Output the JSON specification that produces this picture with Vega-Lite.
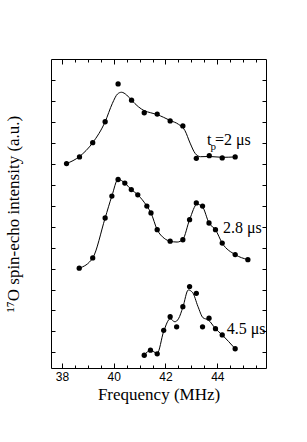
{
  "$schema": "https://vega.github.io/schema/vega-lite/v6.json",
  "width": 215,
  "height": 309,
  "autosize": {"type": "none"},
  "padding": {"left": 51, "top": 59, "right": 41, "bottom": 74},
  "background": "white",
  "config": {
    "view": {"stroke": "black", "strokeWidth": 1},
    "axis": {"domain": false, "grid": false, "tickColor": "black", "tickWidth": 1, "labelColor": "black", "titleColor": "black", "labelFont": "Liberation Sans", "labelFontSize": 12, "titleFont": "Liberation Serif", "titleFontSize": 17, "titleFontWeight": "normal"}
  },
  "datasets": {
    "points": [
      {"s": "2", "f": 38.18, "v": 9.02}, {"s": "2", "f": 38.68, "v": 9.34}, {"s": "2", "f": 39.19, "v": 10.02}, {"s": "2", "f": 39.67, "v": 11.02},
      {"s": "2", "f": 40.17, "v": 12.83}, {"s": "2", "f": 40.69, "v": 12.05}, {"s": "2", "f": 41.18, "v": 11.45}, {"s": "2", "f": 41.68, "v": 11.39},
      {"s": "2", "f": 42.18, "v": 11.06}, {"s": "2", "f": 42.67, "v": 10.82}, {"s": "2", "f": 43.19, "v": 9.27}, {"s": "2", "f": 43.69, "v": 9.40},
      {"s": "2", "f": 44.19, "v": 9.29}, {"s": "2", "f": 44.69, "v": 9.34},
      {"s": "2.8", "f": 38.67, "v": 4.02}, {"s": "2.8", "f": 39.19, "v": 4.51}, {"s": "2.8", "f": 39.67, "v": 6.42}, {"s": "2.8", "f": 39.93, "v": 7.47},
      {"s": "2.8", "f": 40.17, "v": 8.26}, {"s": "2.8", "f": 40.43, "v": 8.09}, {"s": "2.8", "f": 40.68, "v": 7.78}, {"s": "2.8", "f": 40.93, "v": 7.53},
      {"s": "2.8", "f": 41.28, "v": 6.99}, {"s": "2.8", "f": 41.44, "v": 6.66}, {"s": "2.8", "f": 41.68, "v": 5.86}, {"s": "2.8", "f": 42.18, "v": 5.31},
      {"s": "2.8", "f": 42.67, "v": 5.38}, {"s": "2.8", "f": 42.93, "v": 6.34}, {"s": "2.8", "f": 43.19, "v": 7.14}, {"s": "2.8", "f": 43.43, "v": 6.99},
      {"s": "2.8", "f": 43.68, "v": 6.18}, {"s": "2.8", "f": 43.93, "v": 5.86}, {"s": "2.8", "f": 44.19, "v": 5.22}, {"s": "2.8", "f": 44.69, "v": 4.67},
      {"s": "2.8", "f": 45.18, "v": 4.43},
      {"s": "4.5", "f": 41.18, "v": -0.14}, {"s": "4.5", "f": 41.42, "v": 0.10}, {"s": "4.5", "f": 41.68, "v": -0.07}, {"s": "4.5", "f": 41.93, "v": 1.05},
      {"s": "4.5", "f": 42.18, "v": 1.70}, {"s": "4.5", "f": 42.43, "v": 1.22}, {"s": "4.5", "f": 42.67, "v": 2.18}, {"s": "4.5", "f": 42.93, "v": 3.14},
      {"s": "4.5", "f": 43.19, "v": 2.82}, {"s": "4.5", "f": 43.43, "v": 1.22}, {"s": "4.5", "f": 43.68, "v": 1.63}, {"s": "4.5", "f": 43.93, "v": 1.13},
      {"s": "4.5", "f": 44.19, "v": 0.83}, {"s": "4.5", "f": 44.69, "v": 0.17}
    ],
    "fit": [
      {"s": "2", "f": 38.18, "v": 9.02}, {"s": "2", "f": 38.68, "v": 9.36}, {"s": "2", "f": 39.19, "v": 10.02}, {"s": "2", "f": 39.67, "v": 11.02},
      {"s": "2", "f": 39.95, "v": 11.9}, {"s": "2", "f": 40.15, "v": 12.35}, {"s": "2", "f": 40.3, "v": 12.43}, {"s": "2", "f": 40.5, "v": 12.3},
      {"s": "2", "f": 40.69, "v": 12.05}, {"s": "2", "f": 40.95, "v": 11.74}, {"s": "2", "f": 41.18, "v": 11.55}, {"s": "2", "f": 41.43, "v": 11.45},
      {"s": "2", "f": 41.68, "v": 11.36}, {"s": "2", "f": 41.93, "v": 11.23},
      {"s": "2", "f": 42.18, "v": 11.08}, {"s": "2", "f": 42.5, "v": 10.9}, {"s": "2", "f": 42.75, "v": 10.6}, {"s": "2", "f": 42.95, "v": 10.0},
      {"s": "2", "f": 43.15, "v": 9.5}, {"s": "2", "f": 43.35, "v": 9.35}, {"s": "2", "f": 43.7, "v": 9.36}, {"s": "2", "f": 44.2, "v": 9.32},
      {"s": "2", "f": 44.69, "v": 9.34},
      {"s": "2.8", "f": 38.67, "v": 4.02}, {"s": "2.8", "f": 39.19, "v": 4.51}, {"s": "2.8", "f": 39.67, "v": 6.42}, {"s": "2.8", "f": 39.93, "v": 7.47},
      {"s": "2.8", "f": 40.17, "v": 8.27}, {"s": "2.8", "f": 40.43, "v": 8.09}, {"s": "2.8", "f": 40.68, "v": 7.78}, {"s": "2.8", "f": 40.93, "v": 7.53},
      {"s": "2.8", "f": 41.28, "v": 6.99}, {"s": "2.8", "f": 41.44, "v": 6.66}, {"s": "2.8", "f": 41.68, "v": 5.86}, {"s": "2.8", "f": 41.95, "v": 5.45},
      {"s": "2.8", "f": 42.18, "v": 5.31}, {"s": "2.8", "f": 42.45, "v": 5.27}, {"s": "2.8", "f": 42.67, "v": 5.4}, {"s": "2.8", "f": 42.93, "v": 6.34},
      {"s": "2.8", "f": 43.22, "v": 7.08}, {"s": "2.8", "f": 43.43, "v": 6.95}, {"s": "2.8", "f": 43.68, "v": 6.18}, {"s": "2.8", "f": 43.93, "v": 5.86},
      {"s": "2.8", "f": 44.19, "v": 5.22}, {"s": "2.8", "f": 44.69, "v": 4.67}, {"s": "2.8", "f": 45.18, "v": 4.43},
      {"s": "4.5", "f": 41.18, "v": -0.14}, {"s": "4.5", "f": 41.42, "v": 0.10}, {"s": "4.5", "f": 41.68, "v": -0.05}, {"s": "4.5", "f": 41.93, "v": 1.0},
      {"s": "4.5", "f": 42.18, "v": 1.6}, {"s": "4.5", "f": 42.36, "v": 1.46}, {"s": "4.5", "f": 42.5, "v": 1.6}, {"s": "4.5", "f": 42.67, "v": 2.15},
      {"s": "4.5", "f": 42.88, "v": 2.98}, {"s": "4.5", "f": 43.05, "v": 2.85}, {"s": "4.5", "f": 43.25, "v": 2.2}, {"s": "4.5", "f": 43.45, "v": 1.65},
      {"s": "4.5", "f": 43.65, "v": 1.55}, {"s": "4.5", "f": 43.93, "v": 1.13}, {"s": "4.5", "f": 44.19, "v": 0.83}, {"s": "4.5", "f": 44.69, "v": 0.17}
    ],
    "labels": [
      {"t": "t", "f": 43.6, "v": 9.91},
      {"t": "=2 μs", "f": 43.91, "v": 9.91},
      {"t": "2.8 μs", "f": 44.22, "v": 5.7},
      {"t": "4.5 μs", "f": 44.36, "v": 0.87}
    ],
    "sub": [
      {"t": "p", "f": 43.74, "v": 9.66}
    ]
  },
  "resolve": {"axis": {"x": "independent", "y": "independent"}},
  "layer": [
    {
      "data": {"name": "fit"},
      "mark": {"type": "line", "color": "black", "strokeWidth": 1, "interpolate": "monotone", "clip": true},
      "encoding": {
        "x": {"field": "f", "type": "quantitative", "scale": {"domain": [37.58, 45.88], "nice": false, "zero": false},
          "axis": {"orient": "bottom", "values": [38.5, 39, 39.5, 40.5, 41, 41.5, 42.5, 43, 43.5, 44.5, 45, 45.5], "tickSize": -3, "labels": false, "title": null}},
        "y": {"field": "v", "type": "quantitative", "scale": {"domain": [-0.75, 14.02], "nice": false, "zero": false},
          "axis": {"orient": "right", "values": [0,1,2,3,4,5,6,7,8,9,10,11,12,13], "tickSize": -4, "labels": false, "title": null}},
        "detail": {"field": "s"}
      }
    },
    {
      "data": {"name": "points"},
      "mark": {"type": "circle", "color": "black", "opacity": 1, "size": 28},
      "encoding": {
        "x": {"field": "f", "type": "quantitative",
          "axis": {"orient": "bottom", "values": [38, 40, 42, 44], "tickSize": -5, "labelPadding": 8, "title": "Frequency (MHz)", "titlePadding": 4}},
        "y": {"field": "v", "type": "quantitative",
          "axis": {"orient": "left", "values": [0,1,2,3,4,5,6,7,8,9,10,11,12,13], "tickSize": -4, "labels": false, "title": "¹⁷O spin-echo intensity (a.u.)", "titlePadding": 28}}
      }
    },
    {
      "data": {"name": "labels"},
      "mark": {"type": "text", "align": "left", "baseline": "alphabetic", "font": "Liberation Serif", "fontSize": 16, "color": "black"},
      "encoding": {
        "x": {"field": "f", "type": "quantitative",
          "axis": {"orient": "top", "values": [38.5, 39, 39.5, 40.5, 41, 41.5, 42.5, 43, 43.5, 44.5, 45, 45.5], "tickSize": -3, "labels": false, "title": null}},
        "y": {"field": "v", "type": "quantitative", "axis": null},
        "text": {"field": "t"}
      }
    },
    {
      "data": {"name": "sub"},
      "mark": {"type": "text", "align": "left", "baseline": "alphabetic", "font": "Liberation Serif", "fontSize": 11, "color": "black"},
      "encoding": {
        "x": {"field": "f", "type": "quantitative",
          "axis": {"orient": "top", "values": [38, 40, 42, 44], "tickSize": -5, "labels": false, "title": null}},
        "y": {"field": "v", "type": "quantitative", "axis": null},
        "text": {"field": "t"}
      }
    }
  ]
}
